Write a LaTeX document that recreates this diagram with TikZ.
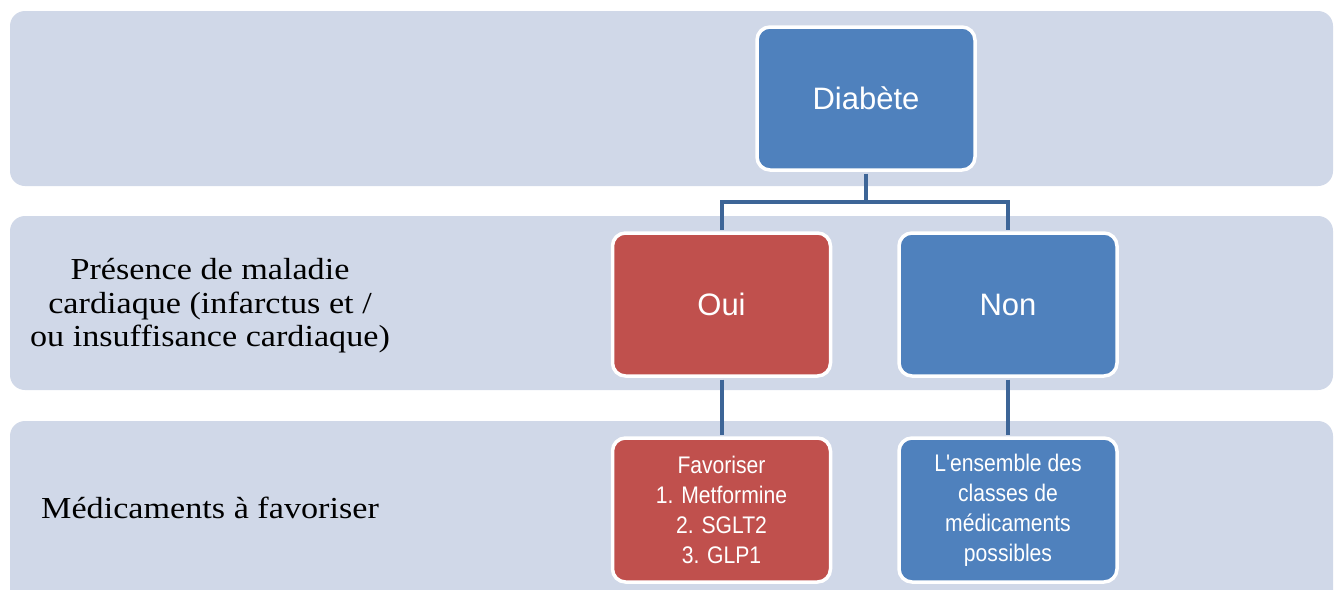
\documentclass[tikz,border=0pt]{standalone}
\usepackage{fontspec}
\setmainfont{Liberation Serif}[FakeStretch=1.12]
\newfontfamily\boxfont{Liberation Sans}
\newfontfamily\narrowfont{Liberation Sans}[FakeStretch=0.88]
\definecolor{bandC}{HTML}{D0D8E8}
\definecolor{blueC}{HTML}{4F81BD}
\definecolor{redC}{HTML}{C0504D}
\definecolor{connC}{HTML}{3D6597}
\tikzset{
  band/.style={fill=bandC, draw=none, rounded corners=15pt, inner sep=0pt},
  rowlabel/.style={align=center, inner sep=0pt, text=black,
    font=\fontsize{30.5}{33.5}\selectfont},
  bigbox/.style={draw=white, line width=3.5pt, rounded corners=13pt,
    minimum width=218pt, minimum height=143pt, inner sep=0pt, text=white,
    font=\boxfont\fontsize{31}{37}\selectfont},
  smallbox/.style={draw=white, line width=3.5pt, rounded corners=13pt,
    minimum width=218pt, minimum height=144pt, inner sep=0pt, text=white,
    align=center, font=\narrowfont\fontsize{24}{30}\selectfont},
  conn/.style={draw=connC, line width=4pt, shorten <=1.75pt, shorten >=1.75pt}
}
\begin{document}
\begin{tikzpicture}[x=1pt, y=-1pt]
  \clip (0,0) rectangle (1335,589);
  \fill[white] (0,0) rectangle (1335,589);

  % background rows
  \node[band, minimum width=1323pt, minimum height=175pt] (row1) at (671.5,98.5) {};
  \node[band, minimum width=1323pt, minimum height=174pt] (row2) at (671.5,303) {};
  \node[band, minimum width=1323pt, minimum height=190pt] (row3) at (671.5,516) {};

  % row captions
  \node[rowlabel] (cap2) at (210,306) {Présence de maladie\\cardiaque (infarctus et /\\ou insuffisance cardiaque)};
  \node[rowlabel] (cap3) at (210,508) {Médicaments à favoriser};

  % boxes
  \node[bigbox, fill=blueC] (diab) at (866,98.5) {Diabète};
  \node[bigbox, fill=redC] (oui) at (721.5,304.5) {Oui};
  \node[bigbox, fill=blueC] (non) at (1008,304.5) {Non};
  \node[smallbox, fill=redC] (fav) at (721.5,510) {Favoriser\\1. Metformine\\2. SGLT2\\3. GLP1};
  \node[smallbox, fill=blueC] (ens) at (1008,510) {L'ensemble des\\classes de\\médicaments\\possibles};

  % connectors
  \coordinate (split) at (866,202);
  \draw[conn, shorten >=0pt] (diab.south) -- (split);
  \draw[conn] (oui.north) -- (oui.north |- split) -- (non.north |- split) -- (non.north);
  \draw[conn] (oui.south) -- (fav.north);
  \draw[conn] (non.south) -- (ens.north);
\end{tikzpicture}
\end{document}
